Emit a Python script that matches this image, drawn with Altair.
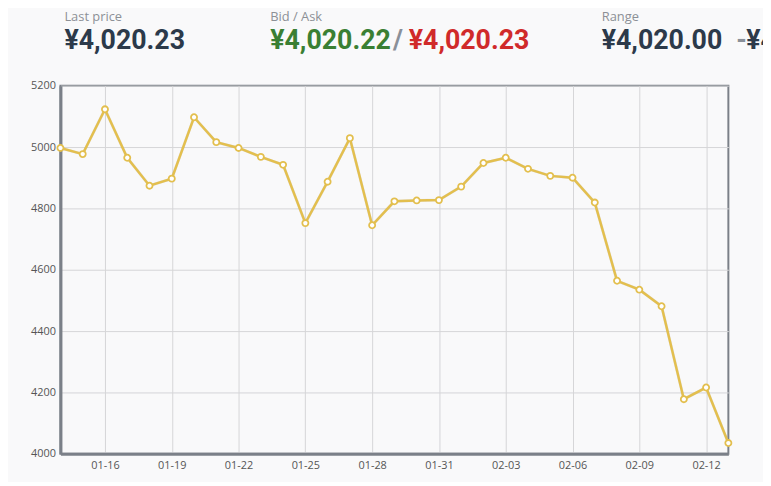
import altair as alt
import pandas as pd

dates = pd.date_range("2014-01-14", "2014-02-13", freq="D").strftime("%Y-%m-%d").tolist()
prices = [4997, 4977, 5123, 4965, 4874, 4897, 5097, 5016, 4997, 4968,
          4942, 4752, 4887, 5029, 4745, 4823, 4826, 4827, 4871, 4948,
          4965, 4929, 4906, 4900, 4819, 4564, 4535, 4481, 4178, 4216, 4035]
x_ticks = ["2014-01-16", "2014-01-19", "2014-01-22", "2014-01-25", "2014-01-28",
           "2014-01-31", "2014-02-03", "2014-02-06", "2014-02-09", "2014-02-12"]
y_ticks = [4000, 4200, 4400, 4600, 4800, 5000, 5200]

header_labels = ["Last price", "Bid / Ask", "Range"]
last_price = "¥4,020.23"
bid = "¥4,020.22"
ask = "¥4,020.23"
range_lo = "¥4,020.00"
range_hi = "¥4"

df = pd.DataFrame({"date": dates, "price": prices})

LINE = "#e3bf4e"
FRAME = "#7b8088"
NUMFONT = "Roboto"
NUMSIZE = 27


def tick_dt(s):
    y, m, d = (int(v) for v in s.split("-"))
    return alt.DateTime(year=y, month=m, date=d, utc=True)


x_enc = alt.X(
    "date:T",
    scale=alt.Scale(type="utc", domain=[tick_dt(dates[0]), tick_dt(dates[-1])], nice=False),
    axis=alt.Axis(values=[tick_dt(t) for t in x_ticks],
                  labelExpr="utcFormat(datum.value, '%m-%d')",
                  title=None, grid=True, gridColor="#d6d6d8", gridWidth=1,
                  domainColor=FRAME, domainWidth=3, ticks=False, labelPadding=6,
                  labelFontSize=11, labelColor="#555", labelFont="Open Sans"),
)
y_enc = alt.Y(
    "price:Q",
    scale=alt.Scale(domain=[4000, 5200], nice=False, zero=False),
    axis=alt.Axis(values=y_ticks, format="d", title=None, grid=True, gridColor="#d6d6d8", gridWidth=1,
                  domainColor=FRAME, domainWidth=3, ticks=False, labelPadding=5,
                  labelFontSize=11, labelColor="#555", labelFont="Open Sans"),
)

base = alt.Chart(df)
shadow = base.mark_line(color="#000", opacity=0.08, strokeWidth=3, dy=1.5, dx=0.5).encode(x=x_enc, y=y_enc)
line = base.mark_line(color=LINE, strokeWidth=2.5).encode(x=x_enc, y=y_enc)
pts = base.mark_point(filled=True, fill="white", stroke=LINE, strokeWidth=1.8, size=38, opacity=1).encode(x=x_enc, y=y_enc)


def txt(text, x, y, size, color, font, weight="normal", baseline="alphabetic"):
    return alt.Chart(pd.DataFrame({"t": [text]})).mark_text(
        align="left", baseline=baseline, fontSize=size, color=color, font=font, fontWeight=weight
    ).encode(text="t:N", x=alt.value(x), y=alt.value(y))


LBL = "#8c9096"
NAVY = "#2c3a4a"
header = [
    txt(header_labels[0], 4, -75, 13, LBL, "Open Sans", baseline="top"),
    txt(last_price, 4, -37, NUMSIZE, NAVY, NUMFONT, "bold"),
    txt(header_labels[1], 212, -75, 13, LBL, "Open Sans", baseline="top"),
    txt(bid, 212, -37, NUMSIZE, "#3a7f33", NUMFONT, "bold"),
    txt("/", 336, -37, NUMSIZE, "#8a9099", NUMFONT, "bold"),
    txt(ask, 352, -37, NUMSIZE, "#d02a2a", NUMFONT, "bold"),
    txt(header_labels[2], 547, -75, 13, LBL, "Open Sans", baseline="top"),
    txt(range_lo, 547, -37, NUMSIZE, NAVY, NUMFONT, "bold"),
    txt("-", 683, -37, NUMSIZE, "#8a9099", NUMFONT, "bold"),
    txt(range_hi, 693, -37, NUMSIZE, NAVY, NUMFONT, "bold"),
]

chart = alt.layer(shadow, line, pts, *header).properties(
    width=675, height=372,
    autosize=alt.AutoSizeParams(type="none"),
    padding={"left": 53, "top": 76, "right": 35, "bottom": 26},
    background="#f9f9fa",
).configure_view(stroke=FRAME, strokeWidth=2)

chart.save("out.html", embed_options={"renderer": "svg", "actions": False})
